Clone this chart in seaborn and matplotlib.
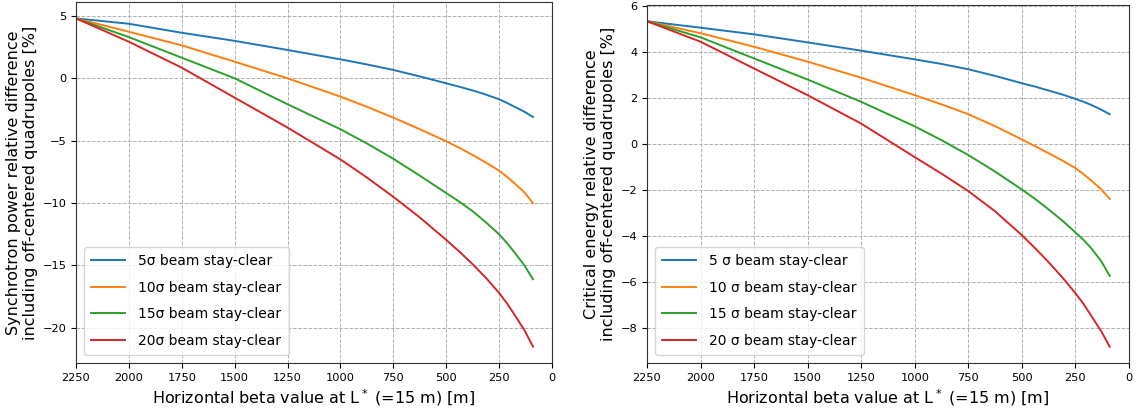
import numpy as np
import pandas as pd
import matplotlib
matplotlib.use('Agg')
import matplotlib.pyplot as plt
import seaborn as sns

# horizontal beta at L* [m]
beta = [2250, 2000, 1750, 1500, 1250, 1000, 875, 750, 625, 500,
        437, 375, 312, 250, 212, 175, 130, 90]
nsig = [5, 10, 15, 20]

# synchrotron power relative difference [%]
pow_5 = [4.8, 4.37, 3.65, 3.0, 2.27, 1.52, 1.11, 0.67, 0.15, -0.4,
         -0.68, -0.97, -1.31, -1.68, -1.98, -2.3, -2.68, -3.1]
pow_10 = [4.8, 3.73, 2.64, 1.33, 0.0, -1.47, -2.28, -3.15, -4.08, -5.05,
          -5.58, -6.15, -6.75, -7.4, -7.9, -8.45, -9.15, -10.0]
pow_15 = [4.8, 3.3, 1.65, 0.0, -2.08, -4.08, -5.22, -6.45, -7.8, -9.2,
          -9.9, -10.65, -11.55, -12.5, -13.22, -14.0, -15.0, -16.1]
pow_20 = [4.8, 2.93, 0.85, -1.55, -3.95, -6.5, -7.95, -9.5, -11.15, -12.95,
          -13.9, -14.9, -16.0, -17.2, -18.05, -19.0, -20.2, -21.5]

# critical energy relative difference [%]
ec_5 = [5.35, 5.07, 4.78, 4.43, 4.07, 3.69, 3.49, 3.26, 2.97, 2.65,
        2.5, 2.33, 2.16, 1.97, 1.84, 1.70, 1.5, 1.30]
ec_10 = [5.35, 4.83, 4.24, 3.59, 2.89, 2.13, 1.73, 1.3, 0.78, 0.2,
         -0.1, -0.4, -0.71, -1.05, -1.31, -1.6, -1.97, -2.39]
ec_15 = [5.35, 4.65, 3.73, 2.81, 1.84, 0.77, 0.17, -0.48, -1.2, -1.98,
         -2.4, -2.85, -3.33, -3.85, -4.18, -4.55, -5.1, -5.74]
ec_20 = [5.35, 4.46, 3.29, 2.13, 0.89, -0.57, -1.29, -2.05, -2.93, -3.97,
         -4.55, -5.15, -5.8, -6.5, -6.97, -7.5, -8.15, -8.83]


def make_df(series, fmt):
    rows = []
    for n, vals in zip(nsig, series):
        for b, v in zip(beta, vals):
            rows.append({'beta': b, 'val': v, 'lab': fmt.format(n)})
    return pd.DataFrame(rows)


df_pow = make_df([pow_5, pow_10, pow_15, pow_20], '{}σ beam stay-clear')
df_ec = make_df([ec_5, ec_10, ec_15, ec_20], '{} σ beam stay-clear')

plt.rcParams['font.family'] = ['DejaVu Sans']
pal = sns.color_palette('tab10', 4)

fig = plt.figure(figsize=(11.38, 4.12), dpi=100)
ax1 = fig.add_axes([76 / 1138, 49 / 412, 476 / 1138, 361 / 412])
ax2 = fig.add_axes([647 / 1138, 49 / 412, 482 / 1138, 358 / 412])

for ax, d, ylab in [(ax1, df_pow, 'Synchrotron power relative difference\nincluding off-centered quadrupoles [%]'),
                    (ax2, df_ec, 'Critical energy relative difference\nincluding off-centered quadrupoles [%]')]:
    sns.lineplot(data=d, x='beta', y='val', hue='lab', palette=pal, ax=ax,
                 linewidth=1.4, sort=False, estimator=None)
    ax.set_xlim(2250, 0)
    ax.set_xticks([2250, 2000, 1750, 1500, 1250, 1000, 750, 500, 250, 0])
    ax.grid(True, linestyle='--', color='#b0b0b0', linewidth=0.7)
    ax.set_xlabel('Horizontal beta value at L$^*$ (=15 m) [m]', fontsize=11.5, labelpad=3)
    ax.set_ylabel(ylab, fontsize=11.5, labelpad=3)
    ax.tick_params(labelsize=8.2, length=3.5, width=0.8)
    for sp in ax.spines.values():
        sp.set_color('#333333')
    ax.legend(loc='lower left', fontsize=10, handlelength=2.4, handletextpad=1.0,
              borderpad=0.5, labelspacing=0.9, title=None, borderaxespad=0.6)

ax2.set_yticks([6, 4, 2, 0, -2, -4, -6, -8])

fig.savefig('out.png', dpi=100)
